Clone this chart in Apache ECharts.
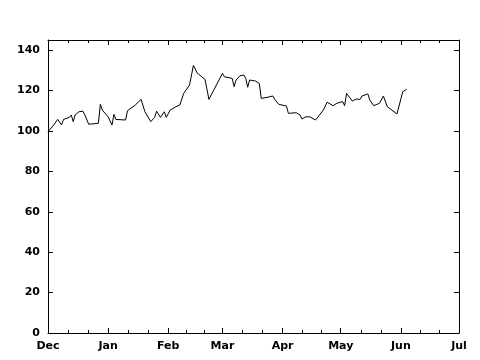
<!DOCTYPE html>
<html>
<head>
<meta charset="utf-8">
<script src="https://cdn.jsdelivr.net/npm/echarts@6/dist/echarts.min.js"></script>
<style>
  html, body { margin: 0; padding: 0; background: #fff; }
  #chart { width: 480px; height: 360px; }
</style>
</head>
<body>
<div id="chart"></div>
<script>
// values
var dates = [
  "2006-12-01", "2006-12-02", "2006-12-04", "2006-12-06", "2006-12-08", "2006-12-09",
  "2006-12-12", "2006-12-13", "2006-12-14", "2006-12-15", "2006-12-17", "2006-12-19",
  "2006-12-20", "2006-12-22", "2006-12-23", "2006-12-27", "2006-12-28", "2006-12-29",
  "2007-01-01", "2007-01-03", "2007-01-04", "2007-01-05", "2007-01-10", "2007-01-11",
  "2007-01-15", "2007-01-18", "2007-01-20", "2007-01-23", "2007-01-25", "2007-01-26",
  "2007-01-28", "2007-01-30", "2007-01-31", "2007-02-02", "2007-02-05", "2007-02-07",
  "2007-02-09", "2007-02-12", "2007-02-14", "2007-02-16", "2007-02-20", "2007-02-22",
  "2007-03-01", "2007-03-02", "2007-03-06", "2007-03-07", "2007-03-08", "2007-03-10",
  "2007-03-12", "2007-03-13", "2007-03-14", "2007-03-15", "2007-03-18", "2007-03-20",
  "2007-03-21", "2007-03-24", "2007-03-27", "2007-03-28", "2007-03-30", "2007-04-03",
  "2007-04-04", "2007-04-08", "2007-04-10", "2007-04-11", "2007-04-13", "2007-04-15",
  "2007-04-16", "2007-04-18", "2007-04-22", "2007-04-24", "2007-04-27", "2007-04-29",
  "2007-05-02", "2007-05-03", "2007-05-04", "2007-05-05", "2007-05-07", "2007-05-09",
  "2007-05-11", "2007-05-12", "2007-05-15", "2007-05-16", "2007-05-18", "2007-05-21",
  "2007-05-22", "2007-05-23", "2007-05-25", "2007-05-30", "2007-06-02", "2007-06-04"
];
var values = [
  99.6, 100.4, 103, 105.7, 103, 105.7,
  106.7, 107.9, 104.6, 107.9, 109.5, 109.8,
  107.9, 103.3, 103.8, 103.8, 113.2, 110.3,
  107, 102.9, 108.2, 105.7, 105.4, 110,
  112.8, 115.6, 109.5, 104.6, 106.7, 109.8,
  106.7, 109.5, 106.7, 110.3, 112, 112.8,
  118.6, 122.7, 132.4, 128.6, 125.5, 115.6,
  128.5, 126.8, 126, 121.9, 125.2, 127.3,
  127.7, 126, 121.6, 125.2, 124.7, 123.5,
  116.1, 116.6, 117.3, 115.6, 113.2, 112.3,
  108.7, 109, 107.9, 105.9, 107, 107,
  107, 105.4, 110.3, 114.2, 112.5, 113.7,
  114.5, 112.5, 118.6, 117.3, 114.8, 115.8,
  115.6, 117.3, 118.3, 115.3, 112.5, 113.7,
  113.2, 117.3, 112, 108.4, 119.4, 120.6
];
var monthNames = ["Jan", "Feb", "Mar", "Apr", "May", "Jun", "Jul", "Aug", "Sep", "Oct", "Nov", "Dec"];

var points = dates.map(function (d, i) { return [d, values[i]]; });

var myChart = echarts.init(document.getElementById("chart"));
var font = { fontFamily: "DejaVu Sans", fontWeight: "bold", fontSize: 11, color: "#000" };
var lineStyle = { color: "#000", width: 1 };

var xCommon = {
  type: "time",
  min: "2006-12-01",
  max: "2007-07-01",
  minInterval: 28 * 86400000,
  maxInterval: 31 * 86400000,
  splitLine: { show: false },
  axisLine: { show: true, onZero: false, lineStyle: lineStyle },
  axisTick: { show: true, inside: true, length: 5, lineStyle: lineStyle },
  minorTick: { show: true, splitNumber: 3, length: 3, lineStyle: lineStyle }
};
var yCommon = {
  type: "value",
  min: 0,
  max: 145,
  interval: 20,
  splitLine: { show: false },
  axisLine: { show: true, onZero: false, lineStyle: lineStyle },
  axisTick: { show: true, inside: true, length: 5, lineStyle: lineStyle }
};

var option = {
  animation: false,
  grid: { left: 48, right: 21, top: 40, bottom: 27, containLabel: false },
  xAxis: [
    Object.assign({}, xCommon, {
      position: "bottom",
      axisLabel: Object.assign({}, font, {
        margin: 8,
        showMinLabel: true,
        showMaxLabel: true,
        formatter: function (v) { return monthNames[new Date(v).getMonth()]; }
      })
    }),
    Object.assign({}, xCommon, { position: "top", axisLabel: { show: false } })
  ],
  yAxis: [
    Object.assign({}, yCommon, {
      position: "left",
      axisLabel: Object.assign({}, font, {
        margin: 8,
        formatter: function (v) { return v % 20 === 0 ? v : ""; }
      })
    }),
    Object.assign({}, yCommon, { position: "right", axisLabel: { show: false } })
  ],
  series: [
    {
      type: "line",
      data: points,
      showSymbol: false,
      lineStyle: { color: "#000", width: 1 },
      itemStyle: { color: "#000" }
    }
  ]
};

option && myChart.setOption(option);
</script>
</body>
</html>
